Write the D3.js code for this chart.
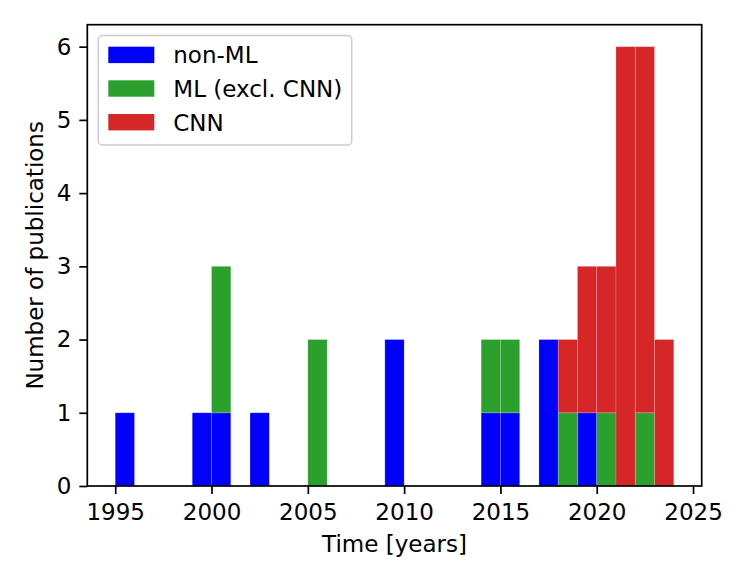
<!DOCTYPE html>
<html>
<head>
<meta charset="utf-8">
<script src="https://cdn.jsdelivr.net/npm/d3@7/dist/d3.min.js"></script>
<style>
  html, body { margin: 0; padding: 0; background: #fff; }
  svg { display: block; }
  text { font-family: "DejaVu Sans", sans-serif; fill: #000; }
</style>
</head>
<body>
<svg id="chart" width="747" height="581"></svg>
<script>
// ---- data (bin start years, 1-year bins) ----
const years = [1995,1996,1997,1998,1999,2000,2001,2002,2003,2004,2005,2006,2007,2008,2009,
               2010,2011,2012,2013,2014,2015,2016,2017,2018,2019,2020,2021,2022,2023];
const nonML = [1,0,0,0,1,1,0,1,0,0,0,0,0,0,2,0,0,0,0,1,1,0,2,0,1,0,0,0,0];
const mlExclCNN = [0,0,0,0,0,2,0,0,0,0,2,0,0,0,0,0,0,0,0,1,1,0,0,1,0,1,0,1,0];
const cnn = [0,0,0,0,0,0,0,0,0,0,0,0,0,0,0,0,0,0,0,0,0,0,0,1,2,2,6,5,2];
const seriesNames = ["non-ML", "ML (excl. CNN)", "CNN"];
const seriesColors = ["#0000ff", "#2ca02c", "#d62728"];
const xTicks = [1995, 2000, 2005, 2010, 2015, 2020, 2025];
const yTicks = [0, 1, 2, 3, 4, 5, 6];
const xLabel = "Time [years]";
const yLabel = "Number of publications";

// ---- layout ----
const L = 87.3, R = 701.7, T = 24.7, B = 486;
const fs = 23;

const svg = d3.select("#chart");
const x = d3.scaleLinear().domain([1993.55, 2025.45]).range([L, R]);
const y = d3.scaleLinear().domain([0, 6.3]).range([B, T]);

const table = years.map((yr, i) => ({ year: yr, "non-ML": nonML[i], "ML (excl. CNN)": mlExclCNN[i], "CNN": cnn[i] }));
const stacked = d3.stack().keys(seriesNames)(table);

const g = svg.append("g");
stacked.forEach((layer, k) => {
  g.selectAll(null)
    .data(layer.filter(d => d[1] - d[0] > 0))
    .enter().append("rect")
    .attr("x", d => x(d.data.year))
    .attr("width", d => x(d.data.year + 1) - x(d.data.year))
    .attr("y", d => y(d[1]))
    .attr("height", d => y(d[0]) - y(d[1]))
    .attr("fill", seriesColors[k])
    .attr("stroke", "rgba(255,255,255,0.22)")
    .attr("stroke-width", 0.8);
});

// axes
const xAxis = d3.axisBottom(x).tickValues(xTicks).tickFormat(d3.format("d")).tickSize(8).tickPadding(8);
const yAxis = d3.axisLeft(y).tickValues(yTicks).tickFormat(d3.format("d")).tickSize(8).tickPadding(8);

const gx = svg.append("g").attr("transform", `translate(0,${B})`).call(xAxis);
const gy = svg.append("g").attr("transform", `translate(${L},0)`).call(yAxis);
[gx, gy].forEach(a => {
  a.select(".domain").remove();
  a.selectAll(".tick line").attr("stroke", "#000").attr("stroke-width", 1.7);
  a.selectAll(".tick text").attr("font-size", fs).attr("font-family", "DejaVu Sans").attr("fill", "#000");
});
gx.selectAll(".tick text").attr("dy", null).attr("y", null).attr("transform", "translate(0,34)");

// spines
svg.append("rect")
  .attr("x", L).attr("y", T).attr("width", R - L).attr("height", B - T)
  .attr("fill", "none").attr("stroke", "#000").attr("stroke-width", 1.7);

// axis labels
svg.append("text")
  .attr("x", (L + R) / 2).attr("y", 552)
  .attr("text-anchor", "middle").attr("font-size", fs)
  .text(xLabel);
svg.append("text")
  .attr("transform", `translate(43.3,${(T + B) / 2}) rotate(-90)`)
  .attr("text-anchor", "middle").attr("font-size", fs)
  .text(yLabel);

// legend
const lg = svg.append("g");
lg.append("rect")
  .attr("x", 98.3).attr("y", 35.5).attr("width", 253.4).attr("height", 109.5)
  .attr("rx", 4).attr("ry", 4)
  .attr("fill", "#fff").attr("fill-opacity", 0.8)
  .attr("stroke", "#cccccc").attr("stroke-width", 1.5);
const rowY = [46.7, 80.3, 114.0];
seriesNames.forEach((name, i) => {
  lg.append("rect")
    .attr("x", 108.3).attr("y", rowY[i]).attr("width", 46).attr("height", 16.4)
    .attr("fill", seriesColors[i]);
  lg.append("text")
    .attr("x", 173.3).attr("y", rowY[i] + 16.6)
    .attr("font-size", fs)
    .text(name);
});
</script>
</body>
</html>
